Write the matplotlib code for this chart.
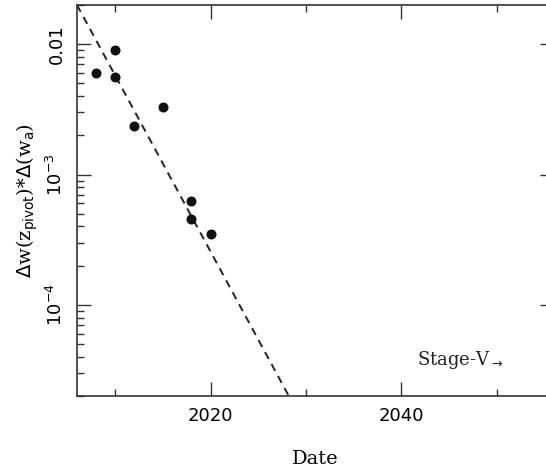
import numpy as np
import matplotlib
matplotlib.use("Agg")
import matplotlib.pyplot as plt
from matplotlib.ticker import LogLocator, FixedLocator, NullFormatter

# Survey figure of merit proxy versus year
years = [2008, 2010, 2010, 2012, 2015, 2018, 2018, 2020]
dw_product = [6.0e-3, 9.0e-3, 5.6e-3, 2.35e-3, 3.3e-3, 6.3e-4, 4.6e-4, 3.5e-4]

# Exponential trend: value at the reference year and years per decade of improvement
trend_ref_year = 2006.0
trend_ref_value = 2.0e-2
trend_years_per_decade = 7.4

xlim = (2006, 2056)
ylim = (2.0e-5, 2.0e-2)
major_xticks = [2020, 2040]
minor_xticks = [2010, 2030, 2050]

plt.rcParams["font.family"] = ["DejaVu Sans"]
fig = plt.figure(figsize=(5.46, 4.71), dpi=100)
ax = fig.add_axes([77 / 546, 1 - 396 / 471, 477 / 546, 391 / 471])

ax.set_yscale("log")
ax.set_xlim(*xlim)
ax.set_ylim(*ylim)

ax.plot(years, dw_product, "o", color="#111111", markersize=6.2, zorder=3)

tx = np.linspace(xlim[0], xlim[1], 200)
ty = trend_ref_value * 10 ** (-(tx - trend_ref_year) / trend_years_per_decade)
ax.plot(tx, ty, color="#222222", linestyle=(0, (4, 3)), linewidth=1.4)

ax.text(2041.6, 3.8e-5, "Stage-V$_{\\rightarrow}$", fontsize=13,
        family="DejaVu Serif", color="#222222", va="center")

ax.xaxis.set_major_locator(FixedLocator(major_xticks))
ax.xaxis.set_minor_locator(FixedLocator(minor_xticks))
ax.yaxis.set_major_locator(LogLocator(base=10, numticks=10))
ax.yaxis.set_minor_locator(LogLocator(base=10, subs=np.arange(2, 10), numticks=10))
ax.yaxis.set_minor_formatter(NullFormatter())

def yfmt(v, pos):
    if abs(v - 0.01) < 1e-9:
        return "0.01"
    return "$10^{%d}$" % int(round(np.log10(v)))

ax.yaxis.set_major_formatter(plt.FuncFormatter(yfmt))

ax.tick_params(which="both", direction="in", top=True, right=True,
               color="#333333", width=1.0)
ax.tick_params(which="major", length=10, labelsize=13, pad=8)
ax.tick_params(which="minor", length=5)
for lab in ax.get_yticklabels():
    lab.set_rotation(90)
    lab.set_va("center")

for s in ax.spines.values():
    s.set_color("#333333")
    s.set_linewidth(1.2)

ax.set_xlabel("Date", fontsize=14, family="DejaVu Serif", labelpad=18)
ax.set_ylabel(r"$\Delta$w(z$_{\rm pivot}$)*$\Delta$(w$_{\rm a}$)", fontsize=14,
              family="DejaVu Serif", labelpad=4)

fig.savefig("out.png", dpi=100)
